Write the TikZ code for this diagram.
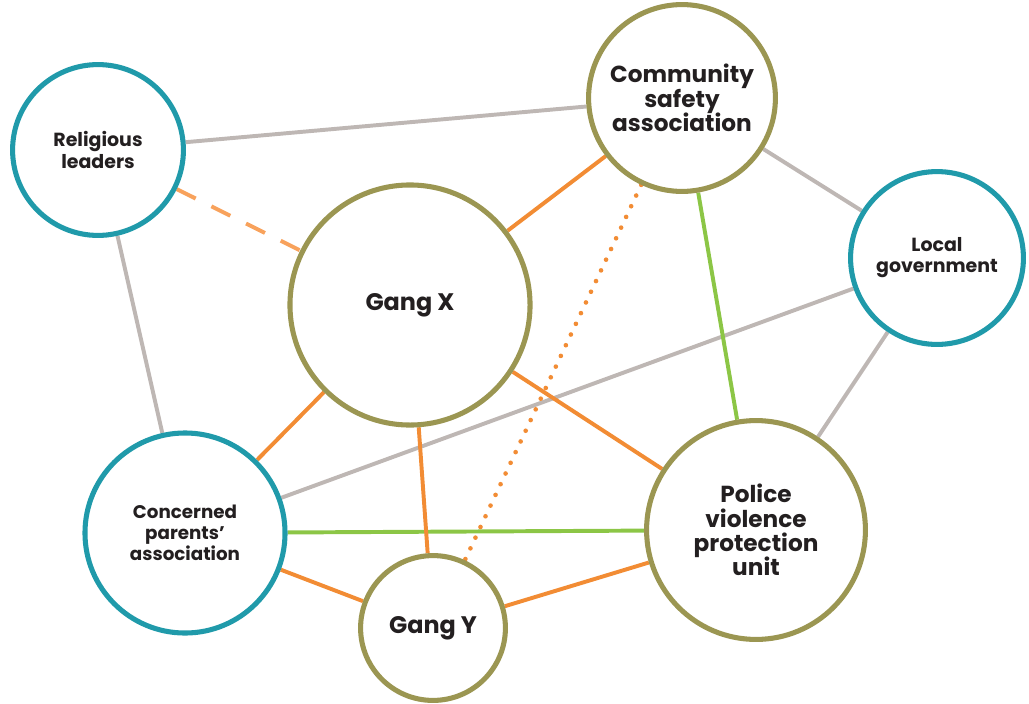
\documentclass[tikz,border=0pt]{standalone}
\usepackage{fontspec}
\setmainfont{Poppins}
\usepackage{tikz}
\usetikzlibrary{backgrounds}
\definecolor{myteal}{RGB}{32,154,170}
\definecolor{myolive}{RGB}{155,150,82}
\definecolor{myorange}{RGB}{242,140,52}
\definecolor{mypeach}{RGB}{248,162,92}
\definecolor{mygray}{RGB}{190,183,180}
\definecolor{mygreen}{RGB}{140,198,70}
\definecolor{mydark}{RGB}{35,31,32}
\newcommand{\tightlines}{\lineskiplimit=-8pt\relax}
\tikzset{
  tealnode/.style={circle, draw=myteal, fill=white, line width=3.6pt,
    inner sep=0pt, align=center, text=mydark,
    font=\bfseries\fontsize{13.5}{15}\selectfont\tightlines},
  olivenode/.style={circle, draw=myolive, fill=white, line width=3.6pt,
    inner sep=0pt, align=center, text=mydark,
    font=\bfseries\fontsize{16.5}{17.3}\selectfont\tightlines},
  graylink/.style={line width=2.8pt, color=mygray},
  orangelink/.style={line width=2.8pt, color=myorange},
  greenlink/.style={line width=2.8pt, color=mygreen}
}

\begin{document}
\begin{tikzpicture}[x=0.025cm, y=-0.025cm]
  \useasboundingbox (0,0) rectangle (1029,703);

  % Actors
  \node[tealnode, minimum size=4.27cm] (relig) at (98,150) {Religious\\leaders};
  \node[olivenode, minimum size=4.67cm] (csa) at (682,98) {Community\\safety\\association};
  \node[olivenode, minimum size=6.0cm, font=\bfseries\fontsize{17}{19}\selectfont]
    (gangx) at (410,305) {Gang X};
  \node[tealnode, minimum size=4.32cm] (localgov) at (937,258) {Local\\government};
  \node[tealnode, minimum size=5.0cm, font=\bfseries\fontsize{13}{15}\selectfont\tightlines]
    (parents) at (185,533) {Concerned\\parents’\\association};
  \node[olivenode, minimum size=5.47cm] (police) at (756,530) {Police\\violence\\protection\\unit};
  \node[olivenode, minimum size=3.62cm, font=\bfseries\fontsize{17}{19}\selectfont]
    (gangy) at (433,628) {Gang Y};

  % Relations
  \begin{pgfonlayer}{background}
    \draw[graylink] (relig) -- (csa);
    \draw[graylink] (relig) -- (parents);
    \draw[graylink] (csa) -- (localgov);
    \draw[graylink] (localgov) -- (police);
    \draw[graylink] (localgov) -- (parents);
    \draw[greenlink] (csa) -- (police);
    \draw[greenlink] (parents) -- (police);
    \draw[orangelink, color=mypeach, dash pattern=on 15pt off 12.5pt] (relig) -- (gangx);
    \draw[orangelink, line width=3.3pt, line cap=round, dash pattern=on 0pt off 8.4pt] (csa) -- (gangy);
    \draw[orangelink] (gangx) -- (csa);
    \draw[orangelink] (gangx) -- (parents);
    \draw[orangelink] (gangx) -- (gangy);
    \draw[orangelink] (gangx) -- (police);
    \draw[orangelink] (parents) -- (gangy);
    \draw[orangelink] (gangy) -- (police);
  \end{pgfonlayer}
\end{tikzpicture}
\end{document}
